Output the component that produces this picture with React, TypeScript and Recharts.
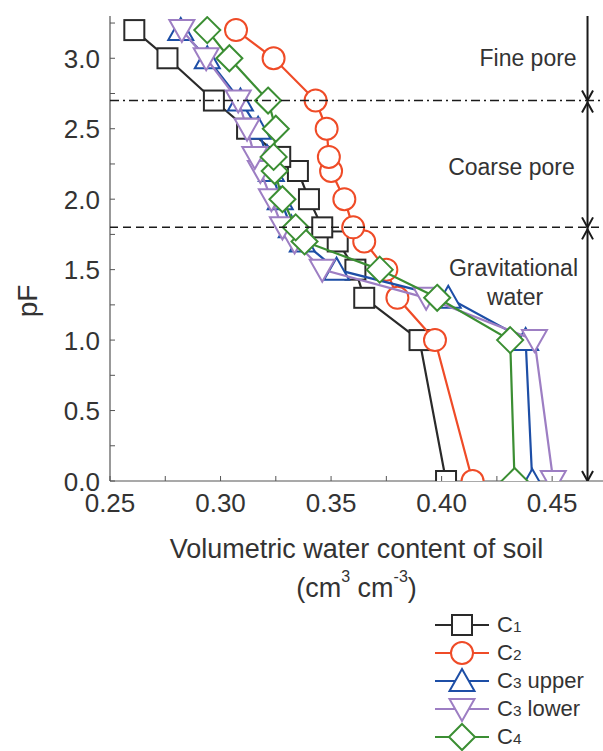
import React from "react";
import { ScatterChart, Scatter, XAxis, YAxis, Legend, ReferenceDot } from "recharts";

// pF levels at which water content was measured
const pF = [0, 1.0, 1.3, 1.5, 1.7, 1.8, 2.0, 2.2, 2.3, 2.5, 2.7, 3.0, 3.2];

// volumetric water content (cm3 cm-3) at each pF level
const c1 = [0.402, 0.39, 0.365, 0.361, 0.353, 0.346, 0.34, 0.335, 0.327, 0.312, 0.297, 0.276, 0.261];
const c2 = [0.414, 0.397, 0.38, 0.375, 0.365, 0.36, 0.356, 0.35, 0.349, 0.348, 0.343, 0.324, 0.307];
const c3Upper = [0.441, 0.438, 0.403, 0.3525, 0.337, 0.332, 0.327, 0.323, 0.321, 0.317, 0.309, 0.294, 0.282];
const c3Lower = [0.4505, 0.442, 0.393, 0.346, 0.3335, 0.328, 0.323, 0.318, 0.3155, 0.312, 0.308, 0.2935, 0.2825];
const c4 = [0.433, 0.431, 0.398, 0.372, 0.338, 0.334, 0.328, 0.3245, 0.324, 0.325, 0.3215, 0.304, 0.294];

const xTicks = [0.25, 0.275, 0.3, 0.325, 0.35, 0.375, 0.4, 0.425, 0.45];
const yTicks = [0, 0.25, 0.5, 0.75, 1, 1.25, 1.5, 1.75, 2, 2.25, 2.5, 2.75, 3, 3.25];

// pore class boundaries
const fineBoundary = 2.7;
const coarseBoundary = 1.8;
const arrowX = 0.466;

const zoneLabels = [
  { text: "Fine pore", x: 0.4391, y: 3.0 },
  { text: "Coarse pore", x: 0.4316, y: 2.23 },
  { text: "Gravitational", x: 0.4325, y: 1.51 },
  { text: "water", x: 0.4332, y: 1.31 },
];

const toPoints = (vals: number[]) => vals.map((v, i) => ({ x: v, y: pF[i] }));

const font = '"Liberation Sans", Arial, sans-serif';
const textColor = "#333";
const axisColor = "#555";

type Shape = "square" | "circle" | "triUp" | "triDown" | "diamond";

const series: { key: string; sub: string; rest: string; color: string; shape: Shape; values: number[] }[] = [
  { key: "c1", sub: "1", rest: "", color: "#2a2a2a", shape: "square", values: c1 },
  { key: "c2", sub: "2", rest: "", color: "#ef4b27", shape: "circle", values: c2 },
  { key: "c3u", sub: "3", rest: " upper", color: "#1d4ea6", shape: "triUp", values: c3Upper },
  { key: "c3l", sub: "3", rest: " lower", color: "#9d7ec3", shape: "triDown", values: c3Lower },
  { key: "c4", sub: "4", rest: "", color: "#3b8e33", shape: "diamond", values: c4 },
];

function marker(shape: Shape, cx: number, cy: number, color: string) {
  const common = { fill: "#fff", stroke: color, strokeWidth: 2 };
  switch (shape) {
    case "square":
      return <rect x={cx - 10} y={cy - 10} width={20} height={20} {...common} />;
    case "circle":
      return <circle cx={cx} cy={cy} r={11} {...common} />;
    case "triUp":
      return <polygon points={`${cx},${cy - 12} ${cx + 12.5},${cy + 10} ${cx - 12.5},${cy + 10}`} {...common} />;
    case "triDown":
      return <polygon points={`${cx - 12.5},${cy - 10} ${cx + 12.5},${cy - 10} ${cx},${cy + 12}`} {...common} />;
    default:
      return <polygon points={`${cx},${cy - 13} ${cx + 13},${cy} ${cx},${cy + 13} ${cx - 13},${cy}`} {...common} />;
  }
}

const YTick = (props: any) => {
  const { x, y, payload } = props;
  const v = payload.value;
  const major = Math.abs(v * 2 - Math.round(v * 2)) < 1e-6;
  return (
    <g>
      <line x1={x} x2={x + 5} y1={y} y2={y} stroke={axisColor} strokeWidth={1} />
      {major && (
        <text x={x - 10} y={y + 9.5} textAnchor="end" fontSize={26} fontFamily={font} fill={textColor}>
          {v.toFixed(1)}
        </text>
      )}
    </g>
  );
};

const XTick = (props: any) => {
  const { x, y, payload } = props;
  const v = payload.value;
  const major = Math.abs(v * 20 - Math.round(v * 20)) < 1e-6;
  return (
    <g>
      <line x1={x} x2={x} y1={y} y2={y - 5} stroke={axisColor} strokeWidth={1} />
      {major && (
        <text x={x} y={y + 31} textAnchor="middle" fontSize={26} fontFamily={font} fill={textColor}>
          {v.toFixed(2)}
        </text>
      )}
    </g>
  );
};

const XTitle = (props: any) => {
  const { viewBox } = props;
  const cx = viewBox.x + viewBox.width / 2;
  const y0 = viewBox.y;
  return (
    <g fontFamily={font} fill={textColor} fontSize={27}>
      <text x={cx} y={y0 + 77} textAnchor="middle">
        Volumetric water content of soil
      </text>
      <text x={cx} y={y0 + 116} textAnchor="middle">
        <tspan>(cm</tspan>
        <tspan dy={-15} fontSize={16}>3</tspan>
        <tspan dy={15}> cm</tspan>
        <tspan dy={-15} fontSize={16}>-3</tspan>
        <tspan dy={15}>)</tspan>
      </text>
    </g>
  );
};

const YTitle = (props: any) => {
  const { viewBox } = props;
  const x = viewBox.x + 27;
  const y = viewBox.y + 285;
  return (
    <text x={x} y={y} transform={`rotate(-90, ${x}, ${y})`} textAnchor="middle" dominantBaseline="central"
      fontSize={28} fontFamily={font} fill={textColor}>
      pF
    </text>
  );
};

const ArrowHead = (props: any) => {
  const { cx, cy, payload } = props;
  const s = "#1a1a1a";
  return (
    <g fill="none" stroke={s} strokeWidth={2}>
      {payload.down && <polyline points={`${cx - 5.5},${cy - 10} ${cx},${cy} ${cx + 5.5},${cy - 10}`} />}
      {payload.up && <polyline points={`${cx - 5.5},${cy + 12} ${cx},${cy + 2} ${cx + 5.5},${cy + 12}`} />}
    </g>
  );
};

const LegendContent = () => (
  <div style={{ fontFamily: font, fontSize: 22, color: textColor }}>
    {series.map((s) => (
      <div key={s.key} style={{ display: "flex", alignItems: "center", height: 28 }}>
        <svg width={54} height={28} style={{ overflow: "visible" }}>
          <line x1={0} x2={54} y1={14} y2={14} stroke={s.color} strokeWidth={2.2} />
          {marker(s.shape, 27, 14, s.color)}
        </svg>
        <span style={{ marginLeft: 8, whiteSpace: "nowrap" }}>
          C<span style={{ fontSize: "0.7em" }}>{s.sub}</span>
          {s.rest}
        </span>
      </div>
    ))}
  </div>
);

const fineLine = [{ x: 0.25, y: fineBoundary }, { x: 0.473, y: fineBoundary }];
const coarseLine = [{ x: 0.25, y: coarseBoundary }, { x: 0.473, y: coarseBoundary }];
const arrowLine = [{ x: arrowX, y: 0 }, { x: arrowX, y: 3.3 }];
const arrowHeads = [
  { x: arrowX, y: fineBoundary, down: true, up: true },
  { x: arrowX, y: coarseBoundary, down: true, up: true },
  { x: arrowX, y: 0, down: true, up: false },
];

export default function App() {
  return (
    <div style={{ position: "absolute", left: 0, top: 0, background: "#fff" }}>
      <ScatterChart width={603} height={751} margin={{ top: 16, right: 0, bottom: 150, left: 0 }}>
        <XAxis
          type="number"
          dataKey="x"
          domain={[0.25, 0.473]}
          allowDataOverflow
          ticks={xTicks}
          interval={0}
          tickSize={0}
          tickMargin={0}
          tick={<XTick />}
          height={120}
          axisLine={{ stroke: axisColor, strokeWidth: 1.2 }}
          label={{ content: <XTitle /> }}
        />
        <YAxis
          type="number"
          dataKey="y"
          domain={[0, 3.3]}
          allowDataOverflow
          ticks={yTicks}
          interval={0}
          tickSize={0}
          tickMargin={0}
          tick={<YTick />}
          width={110}
          axisLine={{ stroke: axisColor, strokeWidth: 1.2 }}
          label={{ content: <YTitle /> }}
        />
        {series.map((s) => (
          <Scatter
            key={s.key}
            name={s.key}
            data={toPoints(s.values)}
            stroke={s.color}
            line={{ stroke: s.color, strokeWidth: 2.2 }}
            shape={(p: any) => marker(s.shape, p.cx, p.cy, s.color)}
            isAnimationActive={false}
          />
        ))}
        <Scatter
          data={fineLine}
          line={{ stroke: "#1a1a1a", strokeWidth: 1.5, strokeDasharray: "9 4 2 4" }}
          shape={() => <g />}
          legendType="none"
          isAnimationActive={false}
        />
        <Scatter
          data={coarseLine}
          line={{ stroke: "#1a1a1a", strokeWidth: 1.5, strokeDasharray: "8 5" }}
          shape={() => <g />}
          legendType="none"
          isAnimationActive={false}
        />
        <Scatter
          data={arrowLine}
          line={{ stroke: "#1a1a1a", strokeWidth: 2 }}
          shape={() => <g />}
          legendType="none"
          isAnimationActive={false}
        />
        <Scatter data={arrowHeads} shape={<ArrowHead />} legendType="none" isAnimationActive={false} />
        {zoneLabels.map((z) => (
          <ReferenceDot
            key={z.text}
            x={z.x}
            y={z.y}
            r={0}
            fill="none"
            stroke="none"
            label={{ value: z.text, position: "center", fontSize: 23, fontFamily: font, fill: textColor }}
          />
        ))}
        <Legend
          layout="vertical"
          verticalAlign="middle"
          align="center"
          content={<LegendContent />}
          wrapperStyle={{ left: 435, top: 611, width: 170, height: 140 }}
        />
      </ScatterChart>
    </div>
  );
}
